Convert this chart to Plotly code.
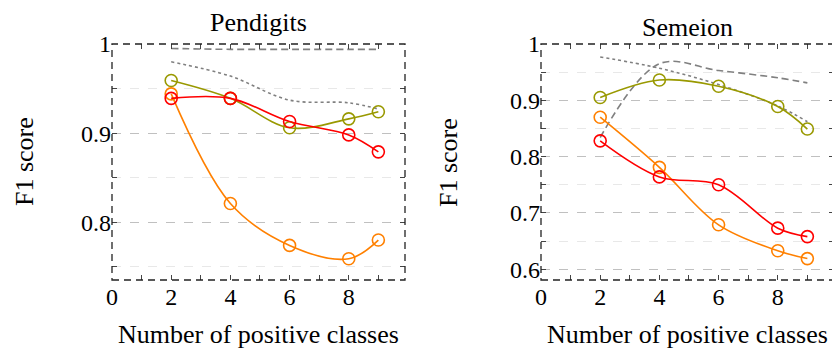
import plotly.graph_objects as go

# ---- data ----
x_classes = [2, 4, 6, 8, 9]

pen_olive = [0.959, 0.939, 0.906, 0.916, 0.924]
pen_red = [0.939, 0.939, 0.913, 0.898, 0.879]
pen_orange = [0.944, 0.821, 0.774, 0.759, 0.780]
pen_dashed = [0.995, 0.994, 0.994, 0.994, 0.994]
pen_dotted = [0.980, 0.964, 0.937, 0.934, 0.927]

sem_olive = [0.905, 0.936, 0.925, 0.889, 0.849]
sem_red = [0.828, 0.764, 0.750, 0.673, 0.658]
sem_orange = [0.870, 0.781, 0.679, 0.633, 0.619]
sem_dashed = [0.834, 0.965, 0.953, 0.940, 0.931]
sem_dotted = [0.977, 0.957, 0.928, 0.890, 0.862]

titles = ["Pendigits", "Semeion"]
x_ticks = [0, 2, 4, 6, 8]
pen_yticks = [0.8, 0.9, 1.0]
pen_ylabels = ["0.8", "0.9", "1"]
sem_yticks = [0.6, 0.7, 0.8, 0.9, 1.0]
sem_ylabels = ["0.6", "0.7", "0.8", "0.9", "1"]

OLIVE = "#999900"
RED = "#ff0000"
ORANGE = "#ff8000"
GRAY = "#808080"
FONT = "Liberation Serif, DejaVu Serif, serif"

fig = go.Figure()


def add_panel(idx, olive, red, orange, dashed, dotted):
    xa = "x" if idx == 1 else "x2"
    ya = "y" if idx == 1 else "y2"
    fig.add_trace(go.Scatter(x=x_classes, y=dashed, mode="lines", xaxis=xa, yaxis=ya,
                             line=dict(color=GRAY, width=1.6, dash="7px,4px", shape="spline"),
                             showlegend=False))
    fig.add_trace(go.Scatter(x=x_classes, y=dotted, mode="lines", xaxis=xa, yaxis=ya,
                             line=dict(color=GRAY, width=1.6, dash="dot", shape="spline"),
                             showlegend=False))
    for ys, c in ((olive, OLIVE), (orange, ORANGE), (red, RED)):
        fig.add_trace(go.Scatter(x=x_classes, y=ys, mode="lines+markers", xaxis=xa, yaxis=ya,
                                 line=dict(color=c, width=1.6, shape="spline"),
                                 marker=dict(symbol="circle-open", size=12, color=c,
                                             line=dict(width=1.6, color=c)),
                                 showlegend=False))


add_panel(1, pen_olive, pen_red, pen_orange, pen_dashed, pen_dotted)
add_panel(2, sem_olive, sem_red, sem_orange, sem_dashed, sem_dotted)

# page body has an 8px margin: figure is drawn offset by 8px
OFF = 8
W, H = 840 - OFF, 350 - OFF


def px(x):
    return (x - OFF) / W


def py(y):
    return 1 - (y - OFF) / H


xdom1 = [px(112), px(405)]
xdom2 = [px(541), px(834)]
ydom = [py(280), py(44)]

tickfont = dict(family=FONT, size=24, color="#000000")

common_x = dict(range=[0, 9.9], tickmode="array", tickvals=x_ticks,
                ticktext=[str(v) for v in x_ticks], ticks="inside", ticklen=5,
                tickcolor="#444444", tickwidth=1, mirror="allticks", showline=False,
                showgrid=False, zeroline=False, tickfont=tickfont, automargin=False,
                minor=dict(tickvals=[1, 3, 5, 7, 9], ticks="inside", ticklen=5,
                           tickcolor="#444444", showgrid=False))


def yaxis(rng, vals, labels, minor_vals, dom):
    return dict(range=rng, domain=dom, tickmode="array", tickvals=vals, ticktext=labels,
                ticks="inside", ticklen=5, tickcolor="#444444", tickwidth=1,
                mirror="allticks", showline=False, zeroline=False, automargin=False,
                showgrid=True, gridcolor="#c0c0c0", griddash="dash", gridwidth=1,
                tickfont=tickfont,
                minor=dict(tickvals=minor_vals, ticks="inside", ticklen=5,
                           tickcolor="#444444", showgrid=True, gridcolor="#e8e8e8",
                           griddash="dash", gridwidth=1))


fig.update_layout(
    template="none",
    width=W, height=H, margin=dict(l=0, r=0, t=0, b=0, autoexpand=False),
    paper_bgcolor="white", plot_bgcolor="white",
    font=dict(family=FONT, color="#000000"),
    xaxis=dict(domain=xdom1, anchor="y", **common_x),
    xaxis2=dict(domain=xdom2, anchor="y2", **common_x),
    yaxis=yaxis([1 - (280 - 44.3) / 890, 1.0], pen_yticks, pen_ylabels,
                [0.75, 0.85, 0.95], ydom) | dict(anchor="x"),
    yaxis2=yaxis([0.6 - (280 - 269.3) / 562.5, 1.0], sem_yticks, sem_ylabels,
                 [0.65, 0.75, 0.85, 0.95], ydom) | dict(anchor="x2"),
)

# dashed frames
for xr, yr in (("x domain", "y domain"), ("x2 domain", "y2 domain")):
    fig.add_shape(type="rect", xref=xr, yref=yr, x0=0, x1=1, y0=0, y1=1,
                  line=dict(color="#222222", width=1.3, dash="7px,5px"), layer="above")

# subplot titles
fig.add_annotation(text=titles[0], x=px(258.5), y=py(22), xref="paper", yref="paper",
                   showarrow=False, xanchor="center", yanchor="middle",
                   font=dict(family=FONT, size=26, color="#000000"))
fig.add_annotation(text=titles[1], x=px(687), y=py(27), xref="paper", yref="paper",
                   showarrow=False, xanchor="center", yanchor="middle",
                   font=dict(family=FONT, size=26, color="#000000"))

# axis titles
for cx in (258.5, 687.5):
    fig.add_annotation(text="Number of positive classes", x=px(cx), y=py(334),
                       xref="paper", yref="paper", showarrow=False,
                       xanchor="center", yanchor="middle",
                       font=dict(family=FONT, size=26, color="#000000"))
for cx in (25, 449):
    fig.add_annotation(text="F1 score", x=px(cx), y=py(162), xref="paper", yref="paper",
                       showarrow=False, xanchor="center", yanchor="middle", textangle=-90,
                       font=dict(family=FONT, size=26, color="#000000"))

fig.write_html("out.html")
